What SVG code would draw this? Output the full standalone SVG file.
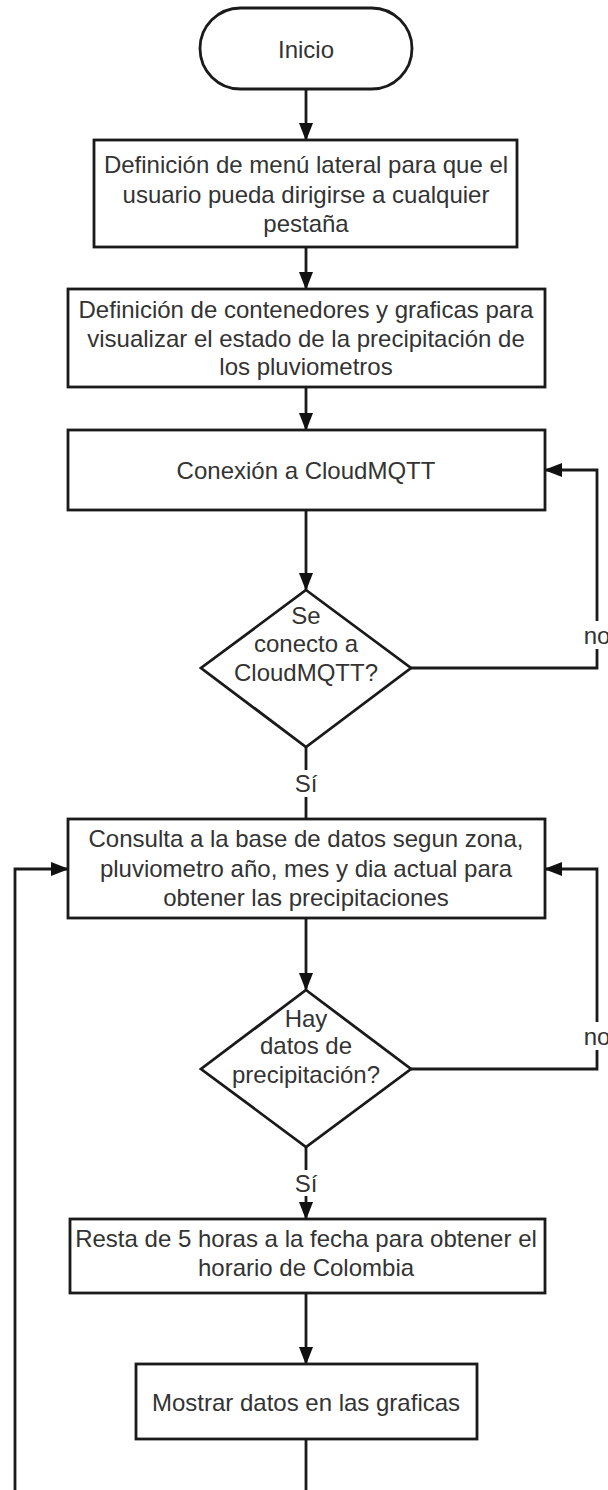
<svg xmlns="http://www.w3.org/2000/svg" width="608" height="1490" viewBox="0 0 608 1490">
<style>
.shape{fill:#ffffff;stroke:#1a1a1a;stroke-width:2.8}
.t{font-family:"Liberation Sans",Arial,sans-serif;font-size:24px;fill:#333333;text-anchor:middle;dominant-baseline:central}
.c{fill:none;stroke:#1a1a1a;stroke-width:2.8}
</style>
<defs>
<marker id="ah" markerUnits="userSpaceOnUse" markerWidth="18" markerHeight="16" refX="17" refY="8" orient="auto">
<path d="M0,1 L18,8 L0,15 Z" fill="#111111"/>
</marker>
</defs>
<rect width="608" height="1490" fill="#ffffff"/>
<g id="connectors">
<path class="c" d="M306,89 V140" marker-end="url(#ah)"/>
<path class="c" d="M306,247 V289" marker-end="url(#ah)"/>
<path class="c" d="M306,387 V430" marker-end="url(#ah)"/>
<path class="c" d="M306,510 V590" marker-end="url(#ah)"/>
<path class="c" d="M411,668 H597 V649"/>
<path class="c" d="M597,621 V470 H545" marker-end="url(#ah)"/>
<path class="c" d="M306,747 V770"/>
<path class="c" d="M306,797 V819"/>
<path class="c" d="M306,918 V990" marker-end="url(#ah)"/>
<path class="c" d="M411,1069 H597 V1050"/>
<path class="c" d="M597,1022 V869 H545" marker-end="url(#ah)"/>
<path class="c" d="M306,1147 V1170"/>
<path class="c" d="M306,1196 V1219" marker-end="url(#ah)"/>
<path class="c" d="M306,1293 V1364" marker-end="url(#ah)"/>
<path class="c" d="M306,1439 V1490"/>
<path class="c" d="M15,1490 V869 H68" marker-end="url(#ah)"/>
<text class="t" x="597" y="635">no</text>
<text class="t" x="306" y="783">Sí</text>
<text class="t" x="597" y="1036">no</text>
<text class="t" x="306" y="1183">Sí</text>
</g>
<g id="inicio">
<rect class="shape" x="200" y="8" width="212" height="81" rx="40.5" ry="40.5"/>
<text class="t" x="306" y="49">Inicio</text>
</g>
<g id="menu">
<rect class="shape" x="94" y="140" width="423" height="107"/>
<text class="t" x="306" y="164">Definición de menú lateral para que el</text>
<text class="t" x="306" y="194">usuario pueda dirigirse a cualquier</text>
<text class="t" x="306" y="223">pestaña</text>
</g>
<g id="contenedores">
<rect class="shape" x="68" y="289" width="477" height="98"/>
<text class="t" x="306" y="309">Definición de contenedores y graficas para</text>
<text class="t" x="306" y="338">visualizar el estado de la precipitación de</text>
<text class="t" x="306" y="366">los pluviometros</text>
</g>
<g id="conexion">
<rect class="shape" x="68" y="430" width="477" height="80"/>
<text class="t" x="306" y="470">Conexión a CloudMQTT</text>
</g>
<g id="decision1">
<polygon class="shape" points="306,590 411,668 306,747 201,668"/>
<text class="t" x="306" y="615">Se</text>
<text class="t" x="306" y="643">conecto a</text>
<text class="t" x="306" y="672">CloudMQTT?</text>
</g>
<g id="consulta">
<rect class="shape" x="68" y="819" width="477" height="99"/>
<text class="t" x="306" y="838">Consulta a la base de datos segun zona,</text>
<text class="t" x="306" y="868">pluviometro año, mes y dia actual para</text>
<text class="t" x="306" y="897">obtener las precipitaciones</text>
</g>
<g id="decision2">
<polygon class="shape" points="306,990 411,1069 306,1147 201,1069"/>
<text class="t" x="306" y="1018">Hay</text>
<text class="t" x="306" y="1045">datos de</text>
<text class="t" x="306" y="1074">precipitación?</text>
</g>
<g id="resta">
<rect class="shape" x="70" y="1219" width="475" height="74"/>
<text class="t" x="306" y="1238">Resta de 5 horas a la fecha para obtener el</text>
<text class="t" x="306" y="1267">horario de Colombia</text>
</g>
<g id="mostrar">
<rect class="shape" x="136" y="1364" width="341" height="75"/>
<text class="t" x="306" y="1402">Mostrar datos en las graficas</text>
</g>
</svg>
